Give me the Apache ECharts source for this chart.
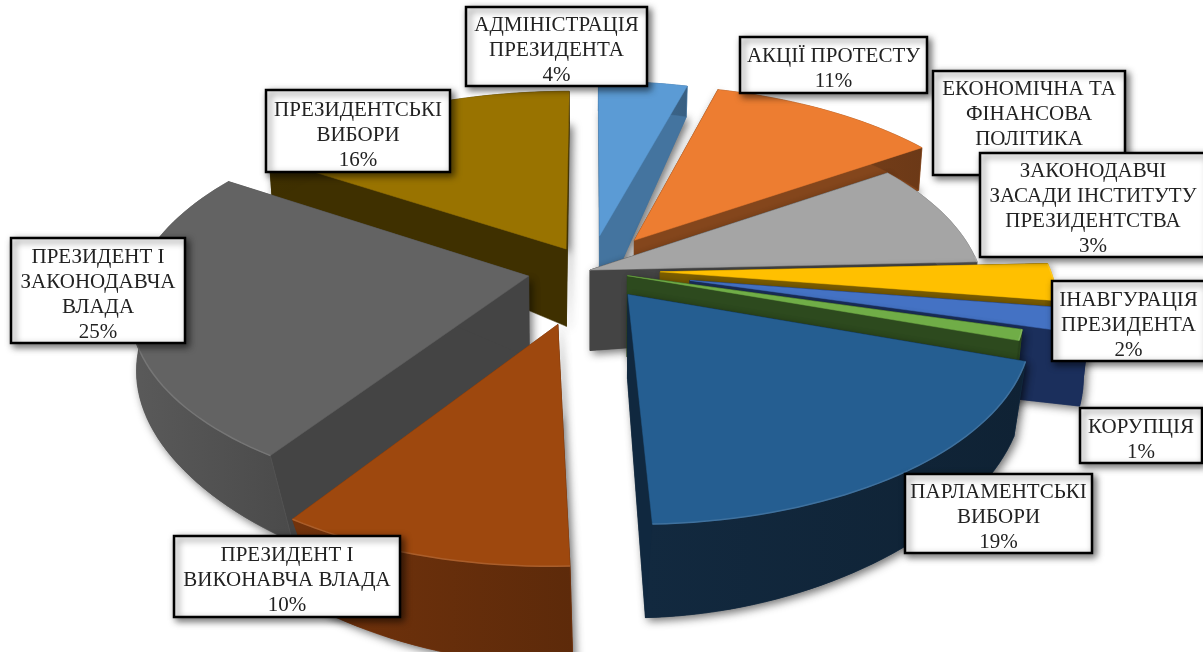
<!DOCTYPE html>
<html><head><meta charset="utf-8">
<style>html,body{margin:0;padding:0;background:#fff}#c{width:1203px;height:652px}</style>
<script src="https://cdn.jsdelivr.net/npm/echarts@6/dist/echarts.min.js"></script>
</head><body><div id="c"></div>
<script>
const categories=["АДМІНІСТРАЦІЯ\nПРЕЗИДЕНТА","АКЦІЇ ПРОТЕСТУ","ЕКОНОМІЧНА ТА\nФІНАНСОВА\nПОЛІТИКА","ЗАКОНОДАВЧІ\nЗАСАДИ ІНСТИТУТУ\nПРЕЗИДЕНТСТВА","ІНАВГУРАЦІЯ\nПРЕЗИДЕНТА","КОРУПЦІЯ","ПАРЛАМЕНТСЬКІ\nВИБОРИ","ПРЕЗИДЕНТ І\nВИКОНАВЧА ВЛАДА","ПРЕЗИДЕНТ І\nЗАКОНОДАВЧА\nВЛАДА","ПРЕЗИДЕНТСЬКІ\nВИБОРИ"];
const values=[4.3,11.2,8.8,3.1,2,0.9,19.1,10,24.7,15.9];
const topColors=["#5B9BD5","#ED7D31","#A5A5A5","#FFC000","#4472C4","#70AD47","#255E91","#9E480E","#636363","#997300"];
const sideColors=["#44749F","#84461C","#444444","#7A5C00","#1B2F5C","#2D4A1E","#10283F","#6B2F0A","#444444","#3F3000"];
const rimWallColors=["#44749F","#84461C","#5C5C5C","#7A5C00","#1B2F5C","#2D4A1E","#12293F","#72330C","#5A5A5A","#3F3000"];
const explode=[.19,.2,0,.18,.26,.1,.16,.29,.16,.13];
const labelBoxes=[[466,7,181,79],[740,37,187,56],[933,71,192,104],[980,153,226,104],[1052,281,153,80],[1080,408,122,55],[905,474,187,79],[174,536,226,81],[11,238,174,105],[266,90,184,82]];

const CX=590,CY=270,F=390,P=.15,K=.48;
const total=values.reduce((a,b)=>a+b,0);
function topPt(X,Y){const s=1/(1-P*Y);return [CX+F*X*s,CY+F*K*Y*s];}
function botPt(X,Y,r){
  const t=topPt(X,Y);
  const d=62.5+27.5*Y+18*(1-Math.min(r,1));
  const shrink=Y>0?.99-.08*Y*Y:.99;
  return [CX+(t[0]-CX)*shrink,t[1]+d];
}
function slice(i){
  let c=0;for(let j=0;j<i;j++)c+=values[j];
  const a0=c/total*2*Math.PI,a1=(c+values[i])/total*2*Math.PI,m=(a0+a1)/2;
  const ox=explode[i]*Math.sin(m),oy=-explode[i]*Math.cos(m);
  const n=Math.max(3,Math.ceil((a1-a0)/.03));
  const tops=[],bots=[],front=[];
  for(let k=0;k<=n;k++){
    const a=a0+(a1-a0)*k/n,X=ox+Math.sin(a),Y=oy-Math.cos(a);
    tops.push(topPt(X,Y));bots.push(botPt(X,Y,1));
    if(Math.cos(a)<.1)front.push(topPt(X,Y));
  }
  return {tops,bots,front,apexT:topPt(ox,oy),apexB:botPt(ox,oy,0)};
}
function mix(hex,t,to){
  const v=parseInt(hex.slice(1),16),c=[v>>16,(v>>8)&255,v&255];
  return 'rgb('+c.map(x=>Math.round(x+(to-x)*t)).join(',')+')';
}
const drawOrder=[9,0,1,2,3,4,5,8,6,7];
const shadow={shadowBlur:9,shadowColor:'rgba(0,0,0,.55)',shadowOffsetX:3,shadowOffsetY:3};
function renderItem(params,api){
  const i=api.value(1);const g=slice(i);
  const side=sideColors[i],wall=rimWallColors[i];
  const children=[];
  const poly=(pts,fill,extra)=>({type:'polygon',shape:{points:pts},style:Object.assign({fill,stroke:typeof fill==='string'?fill:wall,lineWidth:.5},extra||{})});
  children.push(poly([g.apexT,g.tops[0],...g.bots,g.apexB],side,shadow));
  children.push(poly([g.apexT,g.tops[0],g.bots[0],g.apexB],side));
  children.push(poly([g.apexT,g.tops[g.tops.length-1],g.bots[g.bots.length-1],g.apexB],side));
  const grad=new echarts.graphic.LinearGradient(0,0,1,0,[{offset:0,color:wall},{offset:1,color:mix(wall,.18,0)}]);
  children.push(poly([...g.tops,...g.bots.slice().reverse()],grad));
  children.push(poly([g.apexT,...g.tops],topColors[i]));
  if(g.front.length>1)children.push({type:'polyline',shape:{points:g.front},style:{fill:'none',stroke:mix(topColors[i],.12,255),lineWidth:1.5}});
  return {type:'group',children};
}
const chart=echarts.init(document.getElementById('c'));
const graphics=[];
labelBoxes.forEach((b,i)=>{
  graphics.push({type:'group',z:100+i,children:[
    {type:'rect',z:100+i,shape:{x:b[0],y:b[1],width:b[2],height:b[3]},style:{fill:'#fff',stroke:'#000',lineWidth:2.5,shadowBlur:7,shadowColor:'rgba(0,0,0,.55)',shadowOffsetX:3,shadowOffsetY:3}},
    {type:'text',z:100+i,x:b[0]+b[2]/2,y:b[1]+b[3]/2+4,style:{text:categories[i]+'\n'+Math.round(values[i])+'%',font:'21px "Liberation Serif"',fill:'#222',align:'center',verticalAlign:'middle',lineHeight:25}}
  ]});
});
chart.setOption({animation:false,backgroundColor:'#fff',
  series:[{type:'custom',coordinateSystem:'none',silent:true,renderItem,clip:false,
    data:drawOrder.map(i=>({value:[values[i],i],name:categories[i]}))}],
  graphic:graphics});
</script></body></html>
